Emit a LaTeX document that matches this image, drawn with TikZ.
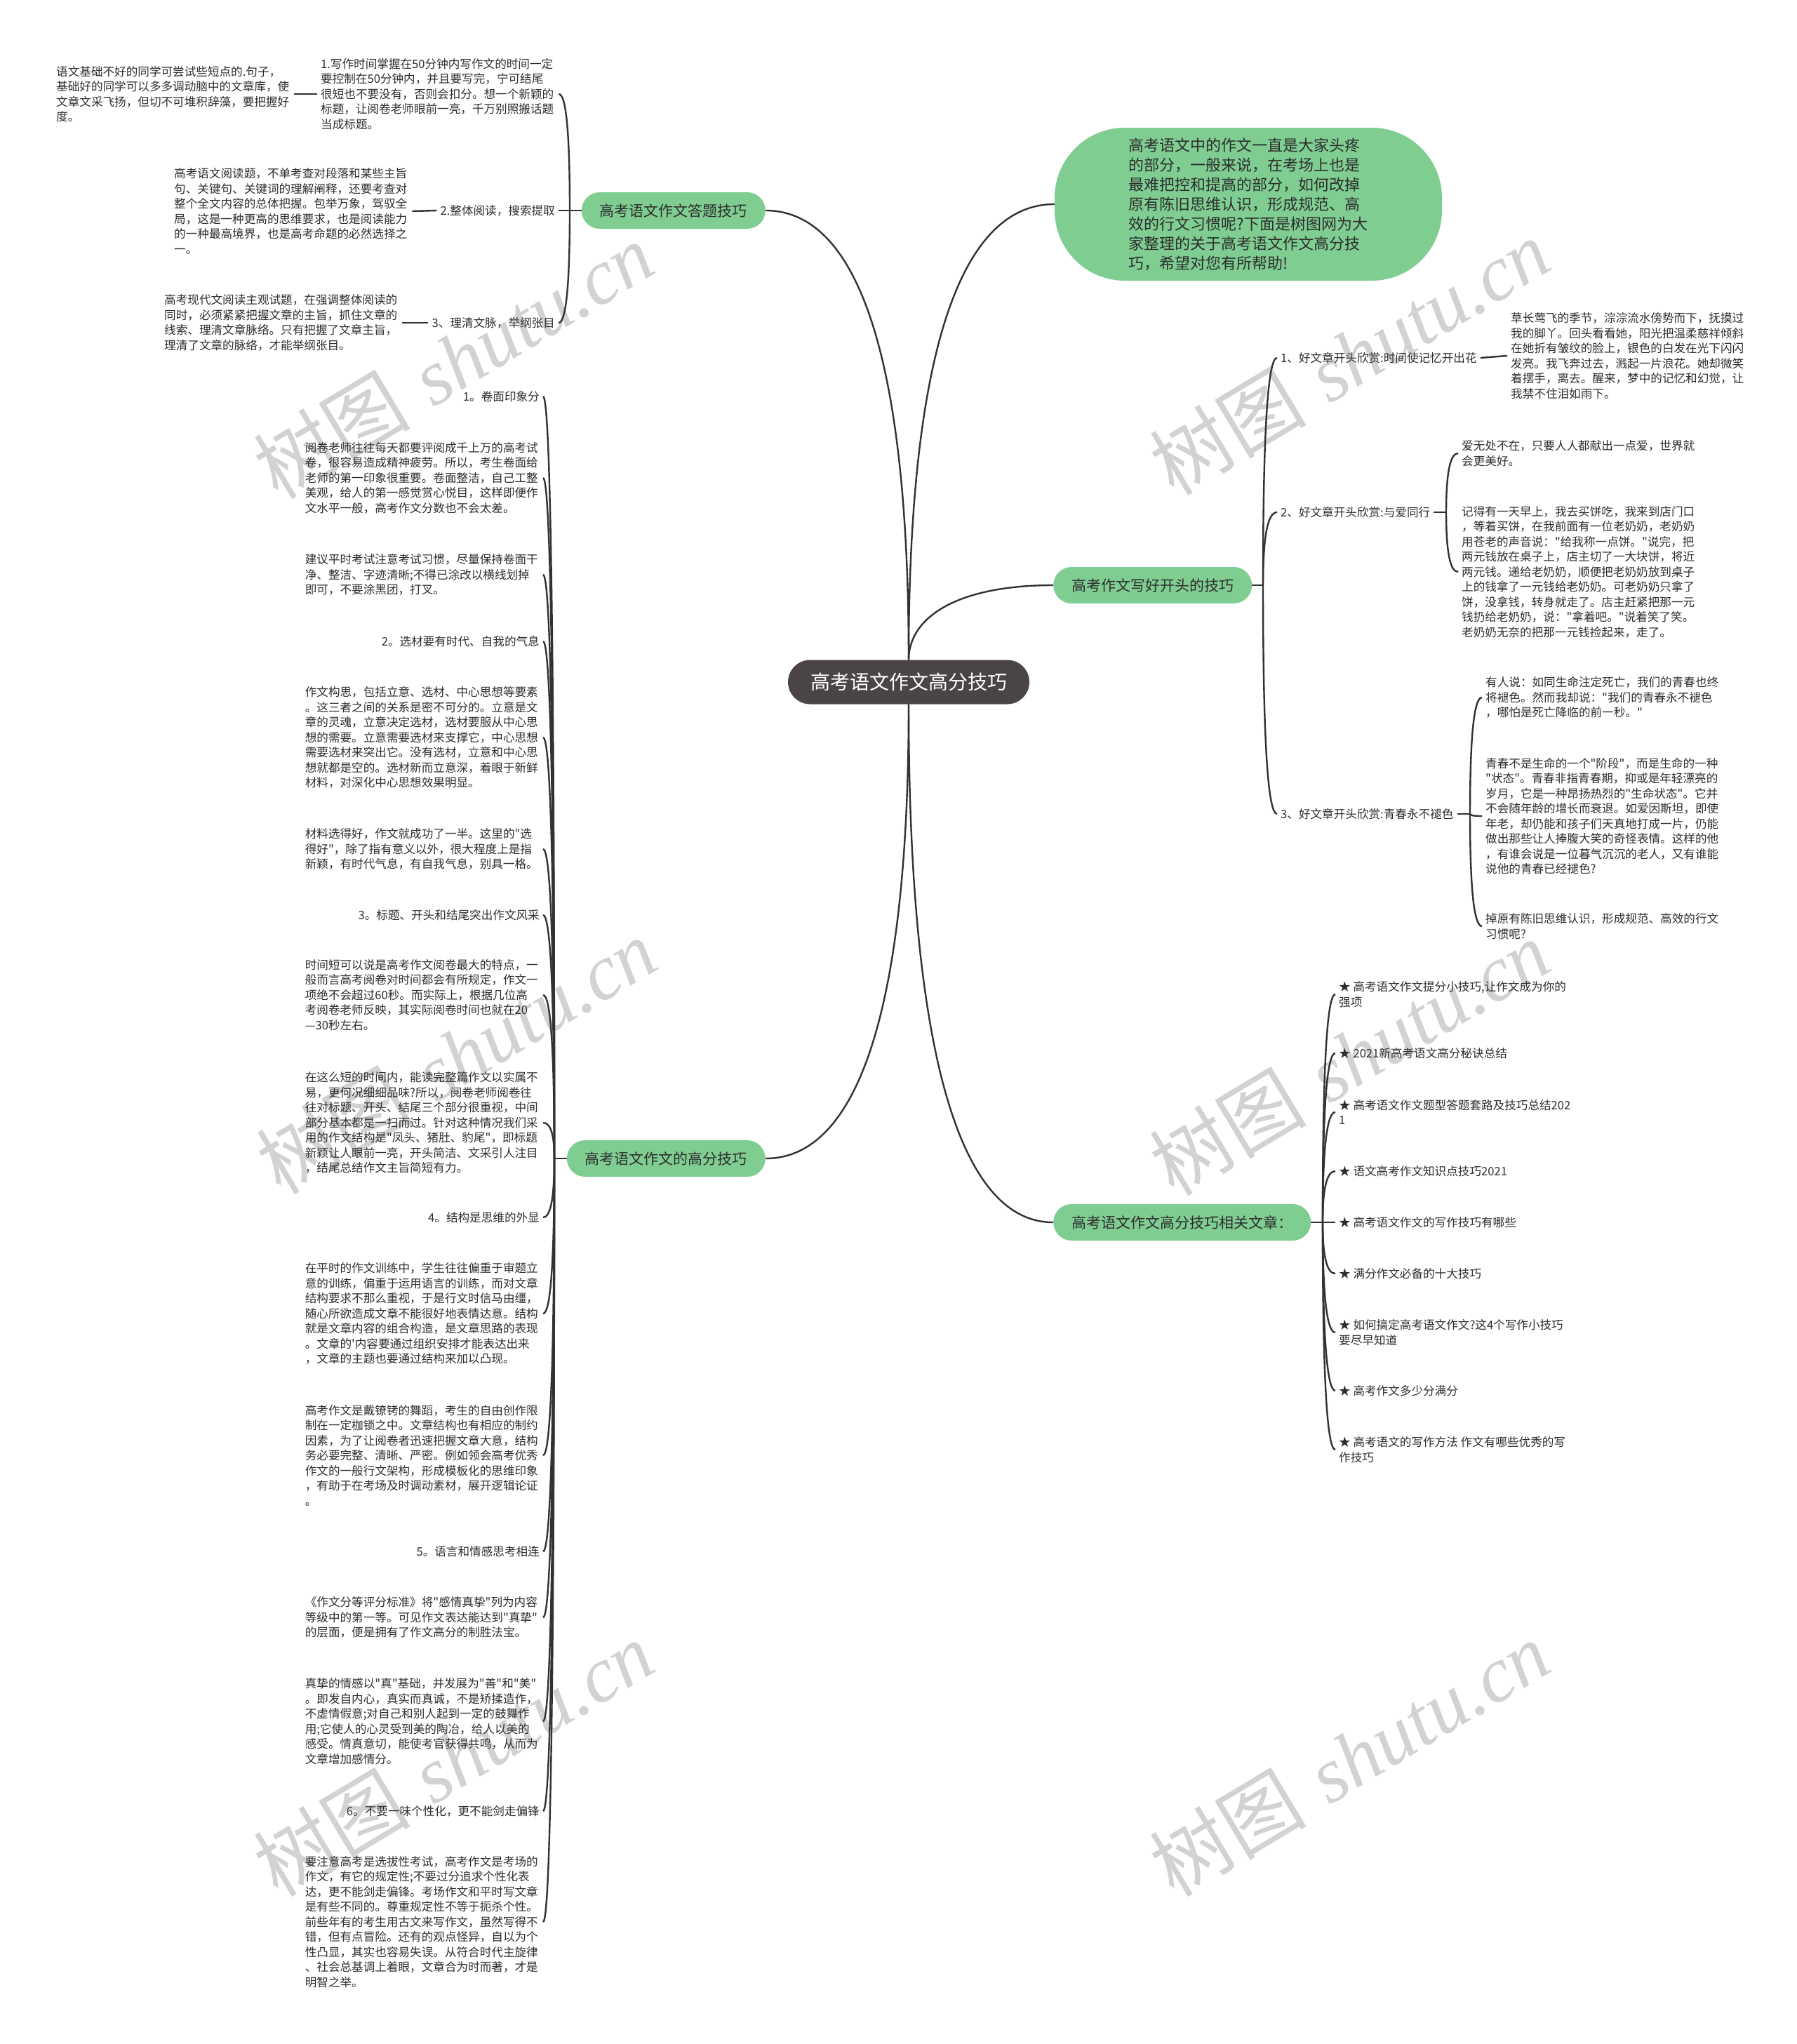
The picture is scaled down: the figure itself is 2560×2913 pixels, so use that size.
\documentclass[tikz,border=0pt]{standalone}
\usepackage{fontspec}
\newfontfamily\cjk{Noto Sans CJK SC}
\newfontfamily\wmfont{Liberation Serif}
\usetikzlibrary{calc}
\definecolor{mmgreen}{RGB}{127,205,145}
\definecolor{mmrootc}{RGB}{74,69,68}
\definecolor{mmtxt}{RGB}{45,45,45}
\definecolor{mmline}{RGB}{50,50,50}
\definecolor{mmwmc}{RGB}{210,210,210}
\pgfdeclarelayer{wmlayer}
\pgfdeclarelayer{bglayer}
\pgfsetlayers{wmlayer,bglayer,main}
\newcommand{\mmlink}[2]{\draw[mmlinkstyle] (#1) .. controls ($(#1)!0.667!(#1|-#2)$) and ($(#2)!0.667!(#1|-#2)$) .. (#2);}
\begin{document}
\begin{tikzpicture}[x=1pt,y=-1pt,
  mmlinkstyle/.style={draw=mmline, line width=2.4pt},
  smalltext/.style={font=\cjk\fontsize{16.6}{21.5}\selectfont, text=mmtxt, inner xsep=5pt, inner ysep=2pt},
  mmpara/.style={smalltext, text width=334pt, align=left},
  mmlbl/.style={smalltext, align=left},
  mmbranch/.style={fill=mmgreen, rounded corners=26pt, minimum height=52pt, inner xsep=26pt, inner ysep=0pt, font=\cjk\fontsize{21}{25}\selectfont, text=mmtxt},
  rootbox/.style={fill=mmrootc, rounded corners=31.5pt, minimum height=63pt, inner xsep=32pt, inner ysep=0pt, font=\cjk\fontsize{28}{32}\selectfont, text=white},
  mmbubble/.style={fill=mmgreen, rounded corners=100pt, minimum width=552pt, minimum height=218pt, align=left, font=\cjk\fontsize{22}{28}\selectfont, text=mmtxt},
  mmwmark/.style={text=mmwmc, rotate=31, font=\fontsize{112}{116}\selectfont}
]
\useasboundingbox (0,0) rectangle (2560,2913);
\begin{pgfonlayer}{wmlayer}
\fill[white] (0,0) rectangle (2560,2913);
\node[mmwmark] (w1) at (646,514) {{\cjk 树图} {\wmfont\itshape shutu.cn}};
\node[mmwmark] (w2) at (1923,509) {{\cjk 树图} {\wmfont\itshape shutu.cn}};
\node[mmwmark] (w3) at (650,1505) {{\cjk 树图} {\wmfont\itshape shutu.cn}};
\node[mmwmark] (w4) at (1923,1507) {{\cjk 树图} {\wmfont\itshape shutu.cn}};
\node[mmwmark] (w5) at (646,2506) {{\cjk 树图} {\wmfont\itshape shutu.cn}};
\node[mmwmark] (w6) at (1923,2506) {{\cjk 树图} {\wmfont\itshape shutu.cn}};
\end{pgfonlayer}

% root and main branches
\node[rootbox] (root) at (1295,972) {高考语文作文高分技巧};
\node[mmbranch, anchor=east] (dati) at (1091,300) {高考语文作文答题技巧};
\node[mmbubble] (intro) at (1779,291) {高考语文中的作文一直是大家头疼\\的部分，一般来说，在考场上也是\\最难把控和提高的部分，如何改掉\\原有陈旧思维认识，形成规范、高\\效的行文习惯呢?下面是树图网为大\\家整理的关于高考语文作文高分技\\巧，希望对您有所帮助!};
\node[mmbranch, anchor=west] (kaitou) at (1501,834) {高考作文写好开头的技巧};
\node[mmbranch, anchor=east] (gaofen) at (1091,1651) {高考语文作文的高分技巧};
\node[mmbranch, anchor=west] (xg) at (1501,1742) {高考语文作文高分技巧相关文章：};

% left top branch
\node[mmpara, anchor=west] (c1) at (452,134) {1.写作时间掌握在50分钟内写作文的时间一定\\要控制在50分钟内，并且要写完，宁可结尾\\很短也不要没有，否则会扣分。想一个新颖的\\标题，让阅卷老师眼前一亮，千万别照搬话题\\当成标题。};
\node[mmpara, anchor=west] (g1) at (75,134) {语文基础不好的同学可尝试些短点的.句子，\\基础好的同学可以多多调动脑中的文章库，使\\文章文采飞扬，但切不可堆积辞藻，要把握好\\度。};
\node[mmlbl, anchor=east] (c2) at (796,300) {2.整体阅读，搜索提取};
\node[mmpara, anchor=west] (g2) at (243,301) {高考语文阅读题，不单考查对段落和某些主旨\\句、关键句、关键词的理解阐释，还要考查对\\整个全文内容的总体把握。包举万象，驾驭全\\局，这是一种更高的思维要求，也是阅读能力\\的一种最高境界，也是高考命题的必然选择之\\一。};
\node[mmlbl, anchor=east] (c3) at (796,460) {3、理清文脉，举纲张目};
\node[mmpara, anchor=west] (g3) at (229,460) {高考现代文阅读主观试题，在强调整体阅读的\\同时，必须紧紧把握文章的主旨，抓住文章的\\线索、理清文章脉络。只有把握了文章主旨，\\理清了文章的脉络，才能举纲张目。};

% left bottom branch
\node[mmlbl, anchor=east] (la) at (774,565) {1。卷面印象分};
\node[mmpara, anchor=east] (lb) at (774,681) {阅卷老师往往每天都要评阅成千上万的高考试\\卷，很容易造成精神疲劳。所以，考生卷面给\\老师的第一印象很重要。卷面整洁，自己工整\\美观，给人的第一感觉赏心悦目，这样即便作\\文水平一般，高考作文分数也不会太差。};
\node[mmpara, anchor=east] (lc) at (774,819) {建议平时考试注意考试习惯，尽量保持卷面干\\净、整洁、字迹清晰;不得已涂改以横线划掉\\即可，不要涂黑团，打叉。};
\node[mmlbl, anchor=east] (ld) at (774,914) {2。选材要有时代、自我的气息};
\node[mmpara, anchor=east] (le) at (774,1051) {作文构思，包括立意、选材、中心思想等要素\\。这三者之间的关系是密不可分的。立意是文\\章的灵魂，立意决定选材，选材要服从中心思\\想的需要。立意需要选材来支撑它，中心思想\\需要选材来突出它。没有选材，立意和中心思\\想就都是空的。选材新而立意深，着眼于新鲜\\材料，对深化中心思想效果明显。};
\node[mmpara, anchor=east] (lf) at (774,1210) {材料选得好，作文就成功了一半。这里的"选\\得好"，除了指有意义以外，很大程度上是指\\新颖，有时代气息，有自我气息，别具一格。};
\node[mmlbl, anchor=east] (lg) at (774,1304) {3。标题、开头和结尾突出作文风采};
\node[mmpara, anchor=east] (lh) at (774,1418) {时间短可以说是高考作文阅卷最大的特点，一\\般而言高考阅卷对时间都会有所规定，作文一\\项绝不会超过60秒。而实际上，根据几位高\\考阅卷老师反映，其实际阅卷时间也就在20\\—30秒左右。};
\node[mmpara, anchor=east] (li) at (774,1600) {在这么短的时间内，能读完整篇作文以实属不\\易，更何况细细品味?所以，阅卷老师阅卷往\\往对标题、开头、结尾三个部分很重视，中间\\部分基本都是一扫而过。针对这种情况我们采\\用的作文结构是"凤头、猪肚、豹尾"，即标题\\新颖让人眼前一亮，开头简洁、文采引人注目\\，结尾总结作文主旨简短有力。};
\node[mmlbl, anchor=east] (lj) at (774,1735) {4。结构是思维的外显};
\node[mmpara, anchor=east] (lk) at (774,1872) {在平时的作文训练中，学生往往偏重于审题立\\意的训练，偏重于运用语言的训练，而对文章\\结构要求不那么重视，于是行文时信马由缰，\\随心所欲造成文章不能很好地表情达意。结构\\就是文章内容的组合构造，是文章思路的表现\\。文章的'内容要通过组织安排才能表达出来\\，文章的主题也要通过结构来加以凸现。};
\node[mmpara, anchor=east] (ll) at (774,2074) {高考作文是戴镣铐的舞蹈，考生的自由创作限\\制在一定枷锁之中。文章结构也有相应的制约\\因素，为了让阅卷者迅速把握文章大意，结构\\务必要完整、清晰、严密。例如领会高考优秀\\作文的一般行文架构，形成模板化的思维印象\\，有助于在考场及时调动素材，展开逻辑论证\\。};
\node[mmlbl, anchor=east] (lm) at (774,2211) {5。语言和情感思考相连};
\node[mmpara, anchor=east] (ln) at (774,2305) {《作文分等评分标准》将"感情真挚"列为内容\\等级中的第一等。可见作文表达能达到"真挚"\\的层面，便是拥有了作文高分的制胜法宝。};
\node[mmpara, anchor=east] (lo) at (774,2453) {真挚的情感以"真"基础，并发展为"善"和"美"\\。即发自内心，真实而真诚，不是矫揉造作，\\不虚情假意;对自己和别人起到一定的鼓舞作\\用;它使人的心灵受到美的陶冶，给人以美的\\感受。情真意切，能使考官获得共鸣，从而为\\文章增加感情分。};
\node[mmlbl, anchor=east] (lp) at (774,2581) {6。不要一味个性化，更不能剑走偏锋};
\node[mmpara, anchor=east] (lq) at (774,2739) {要注意高考是选拔性考试，高考作文是考场的\\作文，有它的规定性;不要过分追求个性化表\\达，更不能剑走偏锋。考场作文和平时写文章\\是有些不同的。尊重规定性不等于扼杀个性。\\前些年有的考生用古文来写作文，虽然写得不\\错，但有点冒险。还有的观点怪异，自以为个\\性凸显，其实也容易失误。从符合时代主旋律\\、社会总基调上着眼，文章合为时而著，才是\\明智之举。};

% right: opening techniques
\node[mmlbl, anchor=west] (r1) at (1820,510) {1、好文章开头欣赏:时间使记忆开出花};
\node[mmpara, anchor=west] (r1g) at (2148,507) {草长莺飞的季节，淙淙流水傍势而下，抚摸过\\我的脚丫。回头看看她，阳光把温柔慈祥倾斜\\在她折有皱纹的脸上，银色的白发在光下闪闪\\发亮。我飞奔过去，溅起一片浪花。她却微笑\\着摆手，离去。醒来，梦中的记忆和幻觉，让\\我禁不住泪如雨下。};
\node[mmlbl, anchor=west] (r2) at (1820,730) {2、好文章开头欣赏:与爱同行};
\node[mmpara, anchor=west] (r2a) at (2078,646) {爱无处不在，只要人人都献出一点爱，世界就\\会更美好。};
\node[mmpara, anchor=west] (r2b) at (2078,815) {记得有一天早上，我去买饼吃，我来到店门口\\，等着买饼，在我前面有一位老奶奶，老奶奶\\用苍老的声音说："给我称一点饼。"说完，把\\两元钱放在桌子上，店主切了一大块饼，将近\\两元钱。递给老奶奶，顺便把老奶奶放到桌子\\上的钱拿了一元钱给老奶奶。可老奶奶只拿了\\饼，没拿钱，转身就走了。店主赶紧把那一元\\钱扔给老奶奶，说："拿着吧。"说着笑了笑。\\老奶奶无奈的把那一元钱捡起来，走了。};
\node[mmlbl, anchor=west] (r3) at (1820,1160) {3、好文章开头欣赏:青春永不褪色};
\node[mmpara, anchor=west] (r3a) at (2112,994) {有人说：如同生命注定死亡，我们的青春也终\\将褪色。然而我却说："我们的青春永不褪色\\，哪怕是死亡降临的前一秒。"};
\node[mmpara, anchor=west] (r3b) at (2112,1163) {青春不是生命的一个"阶段"，而是生命的一种\\"状态"。青春非指青春期，抑或是年轻漂亮的\\岁月，它是一种昂扬热烈的"生命状态"。它并\\不会随年龄的增长而衰退。如爱因斯坦，即使\\年老，却仍能和孩子们天真地打成一片，仍能\\做出那些让人捧腹大笑的奇怪表情。这样的他\\，有谁会说是一位暮气沉沉的老人，又有谁能\\说他的青春已经褪色?};
\node[mmpara, anchor=west] (r3c) at (2112,1320) {掉原有陈旧思维认识，形成规范、高效的行文\\习惯呢?};

% right: related articles
\node[mmlbl, anchor=west] (x1) at (1903,1417) {★ 高考语文作文提分小技巧,让作文成为你的\\强项};
\node[mmlbl, anchor=west] (x2) at (1903,1501) {★ 2021新高考语文高分秘诀总结};
\node[mmlbl, anchor=west] (x3) at (1903,1585) {★ 高考语文作文题型答题套路及技巧总结202\\1};
\node[mmlbl, anchor=west] (x4) at (1903,1669) {★ 语文高考作文知识点技巧2021};
\node[mmlbl, anchor=west] (x5) at (1903,1742) {★ 高考语文作文的写作技巧有哪些};
\node[mmlbl, anchor=west] (x6) at (1903,1815) {★ 满分作文必备的十大技巧};
\node[mmlbl, anchor=west] (x7) at (1903,1899) {★ 如何搞定高考语文作文?这4个写作小技巧\\要尽早知道};
\node[mmlbl, anchor=west] (x8) at (1903,1982) {★ 高考作文多少分满分};
\node[mmlbl, anchor=west] (x9) at (1903,2066) {★ 高考语文的写作方法 作文有哪些优秀的写\\作技巧};

% junctions
\coordinate (ja) at (812,300);
\coordinate (jb) at (790,1651);
\coordinate (jc) at (1800,834);
\coordinate (jd) at (2061,730);
\coordinate (je) at (2095,1160);
\coordinate (jf) at (1885,1742);

\begin{pgfonlayer}{bglayer}
\mmlink{root}{dati.east}
\mmlink{root}{intro.west}
\mmlink{root}{kaitou.west}
\mmlink{root}{gaofen.east}
\mmlink{root}{xg.west}
\draw[mmlinkstyle] (dati.west) -- (ja);
\mmlink{ja}{c1.east}
\draw[mmlinkstyle] (ja) -- (c2.east);
\mmlink{ja}{c3.east}
\draw[mmlinkstyle] (c1.west) -- (g1.east);
\draw[mmlinkstyle] (c2.west) -- (g2.east);
\draw[mmlinkstyle] (c3.west) -- (g3.east);
\draw[mmlinkstyle] (gaofen.west) -- (jb);
\foreach \n in {la,lb,lc,ld,le,lf,lg,lh,li,lj,lk,ll,lm,ln,lo,lp,lq} {\mmlink{jb}{\n.east}}
\draw[mmlinkstyle] (kaitou.east) -- (jc);
\mmlink{jc}{r1.west}
\mmlink{jc}{r2.west}
\mmlink{jc}{r3.west}
\draw[mmlinkstyle] (r1.east) -- (r1g.west);
\draw[mmlinkstyle] (r2.east) -- (jd);
\mmlink{jd}{r2a.west}
\mmlink{jd}{r2b.west}
\draw[mmlinkstyle] (r3.east) -- (je);
\mmlink{je}{r3a.west}
\mmlink{je}{r3b.west}
\mmlink{je}{r3c.west}
\draw[mmlinkstyle] (xg.east) -- (jf);
\foreach \n in {x1,x2,x3,x4,x5,x6,x7,x8,x9} {\mmlink{jf}{\n.west}}
\end{pgfonlayer}
\end{tikzpicture}
\end{document}
